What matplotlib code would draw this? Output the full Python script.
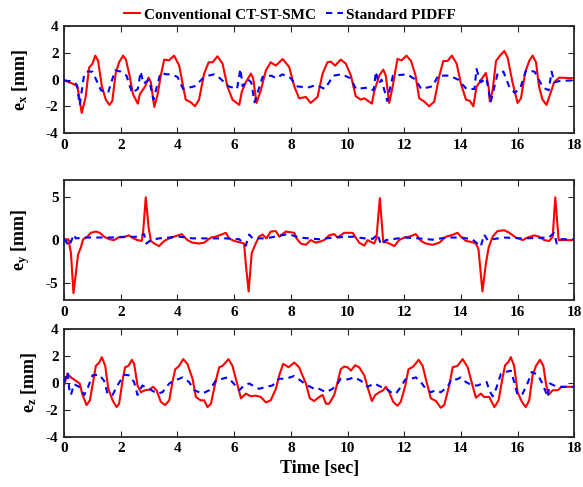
import matplotlib
matplotlib.use('Agg')
import matplotlib.pyplot as plt
import numpy as np

# ---- data ----
# e_x, conventional CT-ST-SMC
t_ex_smc = [0, 0.3, 0.47, 0.62, 0.76, 0.88, 1.0, 1.1, 1.2, 1.33, 1.47, 1.6, 1.7, 1.82, 1.94, 2.08, 2.18,
            2.3, 2.43, 2.6, 2.67, 2.86, 2.98, 3.06, 3.18, 3.3, 3.41, 3.53, 3.7, 3.88, 4.06, 4.18, 4.29,
            4.47, 4.62, 4.76, 4.94, 5.1, 5.24, 5.41, 5.59, 5.76, 5.94, 6.18, 6.27, 6.41, 6.59, 6.67,
            6.79, 6.94, 7.12, 7.29, 7.47, 7.71, 7.94, 8.12, 8.29, 8.53, 8.7, 8.94, 9.12, 9.29, 9.41,
            9.56, 9.76, 9.94, 10.12, 10.29, 10.47, 10.59, 10.76, 10.86, 10.94, 11.12, 11.26, 11.35,
            11.47, 11.59, 11.76, 11.91, 12.08, 12.24, 12.4, 12.53, 12.71, 12.88, 13.06, 13.24, 13.38,
            13.53, 13.68, 13.85, 14.0, 14.18, 14.32, 14.44, 14.55, 14.7, 14.88, 14.98, 15.02, 15.12,
            15.24, 15.38, 15.53, 15.65, 15.82, 16.0, 16.12, 16.27, 16.41, 16.53, 16.65, 16.76, 16.88,
            17.02, 17.14, 17.29, 17.47, 18.0]
ex_smc = [-0.05, -0.3, -0.5, -2.5, -1.3, 0.9, 1.2, 1.8, 1.4, -0.5, -1.5, -1.9, -1.6, 0.5, 1.3, 1.8, 1.5,
          0.4, -1.1, -1.8, -1.1, -0.5, 0.15, -0.2, -2.05, -1.1, 0.3, 1.5, 1.45, 1.8, 1.05, -0.3, -1.5,
          -1.7, -2.0, -1.5, 0.45, 1.3, 1.3, 1.75, 1.2, -0.5, -1.5, -1.9, -0.9, -0.2, 0.45, 0.1,
          -1.75, -0.8, 0.7, 1.3, 1.05, 1.55, 0.95, -0.5, -1.4, -1.3, -1.75, -1.3, 0.45, 1.3, 1.35,
          1.05, 1.5, 1.2, 0.3, -1.25, -1.5, -1.4, -1.65, -1.8, -0.9, 0.3, 0.75, 0.3,
          -1.75, -0.55, 1.55, 1.45, 1.8, 1.4, 0.3, -1.4, -1.65, -2.0, -1.65, 0.3, 1.4,
          1.4, 1.8, 1.2, -0.3, -1.5, -1.6, -2.0, -0.55, -0.05, 0.5, -0.55, -1.65, -0.8,
          1.4, 1.8, 2.15, 1.65, -0.2, -1.75, -1.4, 0.55, 1.4, 1.8, 1.3, -0.55, -1.5,
          -1.9, -1.15, -0.2, 0.15, 0.1]

# e_x, standard PIDFF
t_ex_pid = [0, 0.35, 0.45, 0.55, 0.7, 0.8, 1.0, 1.3, 1.55, 1.62, 1.8, 2.0, 2.2, 2.4, 2.6, 2.7, 2.8,
            3.0, 3.15, 3.4, 3.6, 3.8, 4.0, 4.2, 4.6, 4.9, 5.1, 5.3, 5.5, 5.8, 6.1, 6.22, 6.3, 6.5,
            6.6, 6.72, 7.0, 7.3, 7.5, 7.7, 8.0, 8.2, 8.6, 8.9, 9.2, 9.5, 9.8, 10.1, 10.3, 10.7,
            10.92, 11.0, 11.1, 11.2, 11.4, 11.6, 12.1, 12.4, 12.6, 13.0, 13.2, 13.6, 13.9, 14.2,
            14.48, 14.55, 14.7, 14.9, 15.05, 15.3, 15.5, 15.7, 15.9, 16.1, 16.3, 16.6, 16.9, 17.1,
            17.2, 17.3, 17.5, 18.0]
ex_pid = [-0.05, -0.2, -0.4, -1.9, 0.3, 0.6, 0.6, -0.8, -1.0, -0.5, 0.7, 0.6, 0.3, -1.0, -0.7, 0.6, -0.3,
          0.0, -1.5, 0.5, 0.4, 0.4, 0.2, -0.7, -0.5, 0.1, 0.3, 0.4, 0.1, -0.5, -0.7, 0.8, -0.5, 0.0,
          -0.2, -1.7, 0.2, 0.3, 0.1, 0.4, 0.1, -0.5, -0.6, -0.4, -0.7, 0.3, 0.4, 0.1, -0.7, -0.6,
          -0.8, 0.6, -0.3, 0.0, -1.6, 0.3, 0.4, 0.0, -0.7, -0.5, 0.3, 0.3, 0.0, -0.7,
          -0.7, 0.8, -0.2, 0.1, -1.7, 0.5, 0.6, -0.5, -1.0, -0.6, 0.7, 0.6, -0.6, -0.8,
          0.6, -0.2, -0.1, -0.05]

# e_y, conventional CT-ST-SMC
t_ey_smc = [0, 0.15, 0.24, 0.33, 0.41, 0.49, 0.59, 0.67, 0.82, 0.94, 1.12, 1.26, 1.41, 1.59, 1.76, 1.94,
            2.12, 2.29, 2.44, 2.59, 2.74, 2.79, 2.88, 2.98, 3.06, 3.18, 3.35, 3.53, 3.71, 3.88, 4.15,
            4.35, 4.53, 4.76, 4.94, 5.18, 5.35, 5.59, 5.71, 5.82, 6.0, 6.24, 6.35, 6.41, 6.51, 6.62,
            6.76, 6.88, 7.0, 7.14, 7.29, 7.47, 7.59, 7.82, 8.12, 8.2, 8.35, 8.53, 8.7, 8.88, 9.0,
            9.18, 9.35, 9.53, 9.65, 9.88, 10.18, 10.29, 10.41, 10.59, 10.71, 10.82, 10.94, 11.02,
            11.14, 11.26, 11.41, 11.65, 11.82, 12.0, 12.18, 12.41, 12.59, 12.76, 13.0, 13.24, 13.47,
            13.65, 13.88, 14.0, 14.18, 14.35, 14.53, 14.62, 14.76, 14.88, 14.98, 15.12, 15.29, 15.53,
            15.71, 15.94, 16.18, 16.35, 16.59, 16.76, 16.94, 17.12, 17.24, 17.33, 17.45, 18.0]
ey_smc = [0.1, 0.1, -1.5, -6.2, -4.0, -1.7, -0.85, 0.1, 0.4, 0.85, 1.0, 0.85, 0.4, 0.1, 0.0, 0.35,
          0.4, 0.55, 0.2, 0.0, -0.1, 1.05, 5.0, 1.5, -0.1, -0.4, -0.7, -0.1, 0.2, 0.4, 0.7,
          0.0, -0.3, -0.4, -0.3, 0.3, 0.4, 0.7, 0.85, 0.2, -0.1, -0.3, -0.4, -2.8, -6.0, -1.5,
          -0.4, 0.4, 0.65, 0.2, 1.0, 1.05, 0.4, 1.0, 0.85, 0.2, -0.4, -0.55, 0.0, -0.3, -0.2,
          0.0, 0.55, 0.7, 0.3, 0.85, 0.85, 0.3, -0.3, -0.65, 0.0, -0.2, -0.4, 0.2,
          4.9, -0.2, -0.3, -0.7, 0.0, 0.3, 0.4, 0.7, -0.1, -0.4, -0.55, -0.3, 0.4,
          0.55, 0.85, 0.4, -0.1, -0.2, -0.4, -1.05, -6.0, -2.8, -0.85, 0.4, 1.05, 1.15,
          0.85, 0.3, 0.0, 0.3, 0.55, 0.4, 0.0, -0.1, 0.4, 5.0, 0.0, 0.0]

# e_y, standard PIDFF
t_ey_pid = [0, 0.18, 0.3, 0.35, 0.41, 0.76, 1.59, 2.65, 2.82, 2.9, 3.06, 3.35, 4.06, 4.53, 5.1, 5.71,
            6.18, 6.41, 6.53, 6.65, 7.12, 7.82, 8.06, 8.29, 9.0, 9.5, 10.2, 10.6, 10.9, 11.06, 11.18,
            11.35, 12.0, 12.5, 13.0, 13.5, 14.0, 14.4, 14.7, 14.82, 14.94, 15.5, 16.2, 17.1, 17.29,
            17.38, 17.53, 18.0]
ey_pid = [0.1, -0.7, 0.3, 0.65, 0.2, 0.3, 0.3, 0.4, 0.7, -0.4, 0.0, 0.2, 0.4, 0.2, 0.2, 0.2,
          0.1, -0.65, 0.65, 0.2, 0.2, 0.65, 0.55, 0.3, 0.1, 0.3, 0.4, 0.2, 0.15, 0.7, -0.55,
          0.0, 0.3, 0.2, 0.05, 0.3, 0.3, 0.1, -0.75, 0.65, 0.0, 0.3, 0.2, 0.3, 0.85,
          -0.4, 0.1, 0.1]

# e_z, conventional CT-ST-SMC
t_ez_smc = [0, 0.12, 0.24, 0.41, 0.55, 0.65, 0.79, 0.91, 1.0, 1.12, 1.24, 1.33, 1.45, 1.56, 1.71, 1.85,
            1.94, 2.06, 2.15, 2.27, 2.39, 2.47, 2.59, 2.71, 2.86, 3.02, 3.14, 3.26, 3.41, 3.56, 3.71,
            3.82, 3.92, 4.06, 4.2, 4.35, 4.53, 4.65, 4.82, 4.94, 5.06, 5.18, 5.33, 5.47, 5.59, 5.8,
            5.94, 6.12, 6.24, 6.41, 6.59, 6.76, 6.94, 7.12, 7.29, 7.47, 7.59, 7.73, 7.92, 8.12, 8.29,
            8.53, 8.67, 8.82, 9.0, 9.12, 9.24, 9.35, 9.53, 9.65, 9.76, 9.88, 10.0, 10.12, 10.27,
            10.41, 10.59, 10.74, 10.86, 10.98, 11.12, 11.26, 11.35, 11.47, 11.61, 11.76, 11.88,
            12.04, 12.15, 12.32, 12.51, 12.65, 12.79, 12.94, 13.12, 13.29, 13.41, 13.59, 13.71,
            13.88, 14.06, 14.24, 14.41, 14.53, 14.71, 14.82, 15.0, 15.18, 15.33, 15.45, 15.56,
            15.68, 15.76, 15.88, 16.0, 16.15, 16.29, 16.41, 16.53, 16.65, 16.79, 16.91, 17.0, 17.09,
            17.24, 17.41, 17.56, 18.0]
ez_smc = [-0.15, 0.65, 0.4, 0.15, -0.05, -0.9, -1.65, -1.3, -0.2, 1.25, 1.5, 1.9, 1.25, -0.45, -1.3, -1.8,
          -1.55, 0.15, 1.15, 1.25, 1.7, 1.4, -0.2, -0.7, -0.55, -0.5, -0.3, -0.55, -1.4, -1.65, -1.3,
          0.05, 1.0, 1.25, 1.75, 1.4, 0.3, -1.05, -1.3, -1.3, -1.8, -1.55, -0.05, 1.15, 1.25, 1.75,
          1.25, -0.2, -1.15, -0.8, -1.0, -0.95, -1.05, -1.45, -1.3, -0.45, 0.55, 1.4, 1.15, 1.5, 1.15,
          -0.05, -1.15, -1.35, -1.05, -0.9, -1.55, -1.55, -0.9, 0.05, 1.0, 1.2, 1.15, 0.9, 1.3,
          1.15, 0.55, -0.55, -1.35, -0.9, -0.7, -0.55, -0.3, -0.7, -1.4, -1.7, -1.4,
          -0.2, 1.0, 1.2, 1.7, 1.25, 0.05, -1.15, -1.35, -1.85, -1.65, -0.2, 1.15,
          1.25, 1.75, 1.15, -0.2, -1.1, -0.8, -1.05, -1.05, -1.8, -1.3, 0.15, 1.3,
          1.55, 1.9, 1.25, -0.7, -1.4, -1.8, -1.3, 0.55, 1.25, 1.7, 1.25, -0.05, -0.9,
          -0.55, -0.55, -0.3, -0.3]

# e_z, standard PIDFF
t_ez_pid = [0, 0.12, 0.18, 0.24, 0.35, 0.53, 0.71, 0.82, 1.0, 1.24, 1.41, 1.53, 1.71, 1.88, 2.12, 2.29,
            2.47, 2.59, 2.76, 3.0, 3.29, 3.47, 3.71, 3.88, 4.18, 4.41, 4.59, 4.88, 5.12, 5.35, 5.59,
            5.76, 5.94, 6.18, 6.35, 6.53, 6.65, 6.88, 7.12, 7.35, 7.59, 7.82, 8.12, 8.35, 8.59, 8.88,
            9.0, 9.24, 9.47, 9.65, 9.76, 10.0, 10.24, 10.47, 10.71, 10.94, 11.18, 11.35, 11.53, 11.71,
            11.88, 12.04, 12.24, 12.41, 12.59, 12.76, 12.94, 13.12, 13.29, 13.53, 13.68, 13.85, 14.0,
            14.18, 14.41, 14.59, 14.76, 14.91, 15.0, 15.12, 15.24, 15.41, 15.59, 15.76, 15.88, 16.0,
            16.18, 16.35, 16.5, 16.71, 16.85, 16.97, 17.06, 17.14, 17.29, 17.47, 18.0]
ez_pid = [0.05, 0.8, -0.45, -0.9, -0.1, -0.3, -0.9, -0.45, 0.55, 0.6, 0.15, -0.8, -0.9, -0.2, 0.6, 0.55,
          0.05, -0.9, -0.2, -0.45, -0.8, -0.7, -0.05, 0.15, 0.4, 0.05, -0.55, -0.8, -0.55, 0.15, 0.3,
          0.4, 0.05, -0.55, -0.2, -0.05, -0.2, -0.45, -0.3, -0.2, 0.3, 0.3, 0.5, 0.15, -0.2, -0.5,
          -0.45, -0.7, -0.45, -0.05, 0.3, 0.25, 0.4, 0.15, -0.3, -0.05, -0.3, -0.4, -0.7, -0.8,
          -0.3, 0.25, 0.3, 0.4, 0.05, -0.45, -0.7, -0.55, -0.7, -0.3, 0.3, 0.25, 0.4,
          0.05, -0.2, -0.2, -0.05, 0.05, -0.55, -1.0, -0.45, 0.65, 0.8, 0.9, 0.05, -0.9,
          -0.8, -0.05, 0.8, 0.6, 0.05, -0.55, -1.05, -0.05, -0.2, -0.3, -0.3]

ylabels = ['e$_\\mathrm{x}$ [mm]', 'e$_\\mathrm{y}$ [mm]', 'e$_\\mathrm{z}$ [mm]']
yticks = [[-4, -2, 0, 2, 4], [-5, 0, 5], [-4, -2, 0, 2, 4]]
ylims = [(-4, 4), (-7, 7), (-4, 4)]

plt.rcParams['font.family'] = ['Liberation Serif', 'DejaVu Serif']
plt.rcParams['font.weight'] = 'bold'
plt.rcParams['axes.unicode_minus'] = False
plt.rcParams['mathtext.fontset'] = 'custom'
plt.rcParams['mathtext.rm'] = 'Liberation Serif:bold'
plt.rcParams['mathtext.it'] = 'Liberation Serif:bold:italic'
plt.rcParams['mathtext.bf'] = 'Liberation Serif:bold'

fig = plt.figure(figsize=(5.83, 4.87), dpi=100)
positions = [[0.110, 0.727, 0.875, 0.219],
             [0.110, 0.384, 0.875, 0.246],
             [0.110, 0.103, 0.875, 0.222]]
series = [(t_ex_smc, ex_smc, t_ex_pid, ex_pid),
          (t_ey_smc, ey_smc, t_ey_pid, ey_pid),
          (t_ez_smc, ez_smc, t_ez_pid, ez_pid)]
label_x = [-0.067, -0.063, -0.05]

for i in range(3):
    ax = fig.add_axes(positions[i])
    ts, ys, tp, yp = series[i]
    l1, = ax.plot(ts, ys, color='red', lw=1.5, label='Conventional CT-ST-SMC', zorder=2)
    l2, = ax.plot(tp, yp, color='blue', lw=1.5, ls=(0, (3, 2.5)), label='Standard PIDFF', zorder=3)
    ax.set_xlim(0, 18)
    ax.set_ylim(*ylims[i])
    ax.set_xticks(np.arange(0, 19, 2))
    ax.set_yticks(yticks[i])
    ax.tick_params(direction='in', top=True, right=True, length=4, width=0.8,
                   labelsize=11, pad=4, colors='#262626')
    for lab in ax.get_xticklabels() + ax.get_yticklabels():
        lab.set_fontweight('bold')
        lab.set_color('black')
    for sp in ax.spines.values():
        sp.set_linewidth(1.3)
        sp.set_color('#262626')
    ax.set_ylabel(ylabels[i], fontsize=13, fontweight='bold')
    ax.yaxis.set_label_coords(label_x[i], 0.5)
    if i == 2:
        ax.set_xlabel('Time [sec]', fontsize=13, fontweight='bold', labelpad=3)

fig.legend(handles=[l1, l2], loc='upper center', bbox_to_anchor=(0.497, 1.012), ncol=2,
           frameon=False, handlelength=1.1, handletextpad=0.2, columnspacing=0.7,
           prop={'weight': 'bold', 'size': 11})

fig.savefig('out.png', dpi=100)
